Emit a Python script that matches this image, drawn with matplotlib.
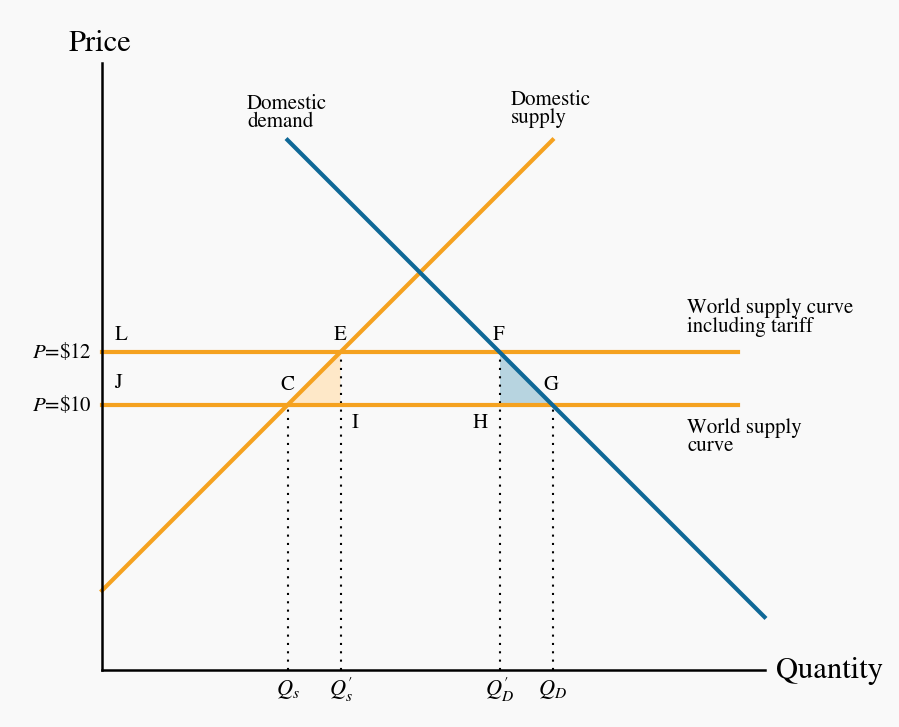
import matplotlib.pyplot as plt

plt.rcParams['font.family'] = 'STIXGeneral'
plt.rcParams['mathtext.fontset'] = 'stix'

# supply / demand lines (quantity, price)
supply_q = [0, 17]
supply_p = [3, 20]
demand_q = [7, 25]
demand_p = [20, 2]

world_q = [0, 24]
p_world = 10
p_tariff = 12

q_s, q_s2, q_d2, q_d = 7, 9, 15, 17
q_ticks = [q_s, q_s2, q_d2, q_d]
q_labels = [r'$Q_s$', r'$Q^{\prime}_s$', r'$Q^{\prime}_D$', r'$Q_D$']

orange = '#f5a220'
blue = '#0f6897'
bg = '#f9f9f9'

fig = plt.figure(figsize=(8.99, 7.27), dpi=100, facecolor=bg)
ax = fig.add_axes([0, 0, 1, 1])
ax.set_facecolor(bg)
ax.set_xlim(-3.849, 30.075)
ax.set_ylim(-2.151, 25.283)
ax.axis('off')

# shaded deadweight triangles
ax.fill([q_s, q_s2, q_s2], [p_world, p_tariff, p_world], color='#fee8c8', lw=0, zorder=1)
ax.fill([q_d2, q_d2, q_d], [p_tariff, p_world, p_world], color='#b7d4e0', lw=0, zorder=1)

# dotted guides
for q, p in zip(q_ticks, [p_world, p_tariff, p_tariff, p_world]):
    ax.plot([q, q], [0, p], color='black', ls=(0, (1, 3)), lw=1.5, zorder=2)

ax.plot(world_q, [p_tariff, p_tariff], color=orange, lw=3, zorder=3)
ax.plot(world_q, [p_world, p_world], color=orange, lw=3, zorder=3)
ax.plot(supply_q, supply_p, color=orange, lw=3, zorder=3)
ax.plot(demand_q, demand_p, color=blue, lw=3, zorder=4)

# axes
ax.plot([0, 25], [0, 0], color='black', lw=1.8, zorder=5)
ax.plot([0, 0], [0, 22.9], color='black', lw=1.8, zorder=5)
ax.text(-0.075, 23.62, 'Price', fontsize=22, ha='center', va='center')
ax.text(25.45, -0.02, 'Quantity', fontsize=22, ha='left', va='center')

fs = 15
ax.text(-0.38, p_tariff, r'$P$=\$12', fontsize=fs, ha='right', va='center')
ax.text(-0.38, p_world, r'$P$=\$10', fontsize=fs, ha='right', va='center')
for q, lab in zip(q_ticks, q_labels):
    ax.text(q, -0.75, lab, fontsize=16, ha='center', va='center')

points = {'L': (0.72, 12.64), 'J': (0.6, 10.83), 'E': (8.98, 12.64), 'C': (6.98, 10.75),
          'F': (14.98, 12.64), 'G': (16.94, 10.75), 'I': (9.55, 9.32), 'H': (14.26, 9.32)}
for name, (x, y) in points.items():
    ax.text(x, y, name, fontsize=fs, ha='center', va='center')

ax.text(5.47, 21.72, 'Domestic\ndemand', fontsize=fs, ha='left', va='top', linespacing=0.9)
ax.text(15.43, 21.87, 'Domestic\nsupply', fontsize=fs, ha='left', va='top', linespacing=0.9)
ax.text(22.08, 14.03, 'World supply curve\nincluding tariff', fontsize=fs, ha='left', va='top',
        linespacing=0.9)
ax.text(22.08, 9.52, 'World supply\ncurve', fontsize=fs, ha='left', va='top', linespacing=0.9)

plt.savefig('out.png', dpi=100, facecolor=bg)
